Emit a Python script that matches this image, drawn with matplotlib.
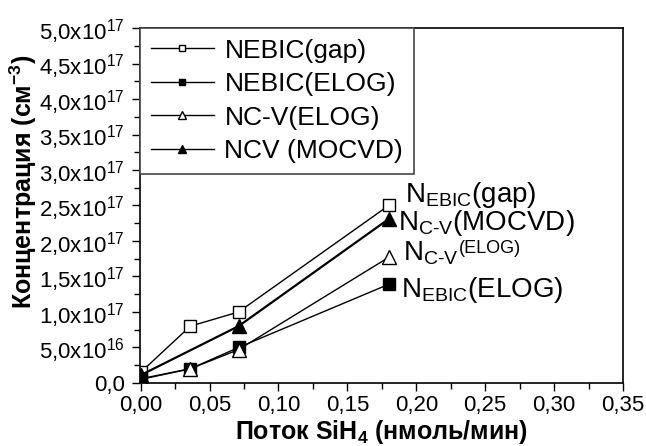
import numpy as np
import matplotlib
matplotlib.use("Agg")
import matplotlib.pyplot as plt
from matplotlib.ticker import MultipleLocator, FixedLocator

# fonts: Arial-like everywhere, mathtext too
plt.rcParams['font.family'] = ['Liberation Sans', 'DejaVu Sans']
plt.rcParams['mathtext.fontset'] = 'custom'
plt.rcParams['mathtext.rm'] = 'Liberation Sans'
plt.rcParams['mathtext.it'] = 'Liberation Sans:italic'
plt.rcParams['mathtext.bf'] = 'Liberation Sans:bold'

# data
x_gap = [0.0, 0.036, 0.071, 0.18]
y_gap = [1.5e16, 8.0e16, 1.0e17, 2.5e17]

x_ebic_elog = [0.0, 0.036, 0.071, 0.18]
y_ebic_elog = [0.6e16, 2.0e16, 5.0e16, 1.39e17]

x_cv_elog = [0.0, 0.036, 0.071, 0.18]
y_cv_elog = [0.5e16, 2.0e16, 4.7e16, 1.77e17]

x_mocvd = [0.0, 0.071, 0.18]
y_mocvd = [1.1e16, 8.0e16, 2.31e17]

legend_names = ["NEBIC(gap)", "NEBIC(ELOG)", "NC-V(ELOG)", "NCV (MOCVD)"]

y_ticks = np.arange(0, 5.01e17, 5e16)
y_tick_labels = ["0,0", "5,0x10$^{16}$", "1,0x10$^{17}$", "1,5x10$^{17}$",
                 "2,0x10$^{17}$", "2,5x10$^{17}$", "3,0x10$^{17}$", "3,5x10$^{17}$",
                 "4,0x10$^{17}$", "4,5x10$^{17}$", "5,0x10$^{17}$"]
x_ticks = np.arange(0, 0.351, 0.05)
x_tick_labels = ["0,00", "0,05", "0,10", "0,15", "0,20", "0,25", "0,30", "0,35"]

# end labels next to the last points (the small "(ELOG)" is added after the third)
end_labels = [r"N$_{\mathrm{EBIC}}$(gap)", r"N$_{\mathrm{C\text{-}V}}$(MOCVD)",
              r"N$_{\mathrm{C\text{-}V}}$", r"N$_{\mathrm{EBIC}}$(ELOG)"]
end_x = [0.1915, 0.187, 0.1905, 0.189]
end_y = [2.55e17, 2.15e17, 1.73e17, 1.21e17]
small_tag = "(ELOG)"

fig = plt.figure(figsize=(6.46, 4.46), dpi=100)
ax = fig.add_axes([0.2167, 0.1413, 0.7477, 0.7959])

l1, = ax.plot(x_gap, y_gap, color="black", lw=1, marker="s", ms=8,
              mfc="white", mec="black", mew=1)
l2, = ax.plot(x_ebic_elog, y_ebic_elog, color="black", lw=1, marker="s", ms=8,
              mfc="black", mec="black")
l3, = ax.plot(x_cv_elog, y_cv_elog, color="black", lw=1, marker="^", ms=10,
              mfc="white", mec="black", mew=1)
l4, = ax.plot(x_mocvd, y_mocvd, color="black", lw=1.6, marker="^", ms=10,
              mfc="black", mec="black")

ax.set_xlim(-0.0005, 0.35)
ax.set_ylim(0, 5e17)

ax.xaxis.set_major_locator(FixedLocator(x_ticks))
ax.set_xticklabels(x_tick_labels)
ax.xaxis.set_minor_locator(MultipleLocator(0.025))
ax.yaxis.set_major_locator(FixedLocator(y_ticks))
ax.set_yticklabels(y_tick_labels)
ax.yaxis.set_minor_locator(MultipleLocator(2.5e16))

ax.tick_params(which="major", direction="out", length=6, width=1, labelsize=16, pad=3)
ax.tick_params(axis="y", which="major", pad=5)
ax.tick_params(which="minor", direction="out", length=4, width=1)
ax.tick_params(top=False, right=False)
for s in ax.spines.values():
    s.set_linewidth(1.2)

ax.set_xlabel("Поток SiH$_{\\mathbf{4}}$ (нмоль/мин)", fontsize=18, fontweight="bold")
ax.xaxis.set_label_coords(0.5, -0.10)
ax.set_ylabel("Концентрация (см$^{\\mathbf{-3}}$)", fontsize=18, fontweight="bold")
ax.yaxis.set_label_coords(-0.209, 0.566)

leg = ax.legend([l1, l2, l3, l4], legend_names, loc="upper left", fontsize=19,
                markerscale=0.6, handlelength=2.4, handletextpad=0.4,
                labelspacing=0.36, borderaxespad=0, borderpad=0.4,
                fancybox=False, framealpha=1)
leg.get_frame().set_edgecolor("#444444")
leg.get_frame().set_linewidth(1.2)
for h in leg.get_lines():
    h.set_linewidth(1)

texts = []
for lab, tx, ty in zip(end_labels, end_x, end_y):
    texts.append(ax.text(tx, ty, lab, fontsize=20, va="baseline", ha="left"))

# small raised "(ELOG)" right after N_C-V
ax.annotate(small_tag, xy=(1.0, 0.5), xycoords=texts[2], fontsize=13,
            ha="left", va="baseline")

fig.savefig("out.png", dpi=100)
